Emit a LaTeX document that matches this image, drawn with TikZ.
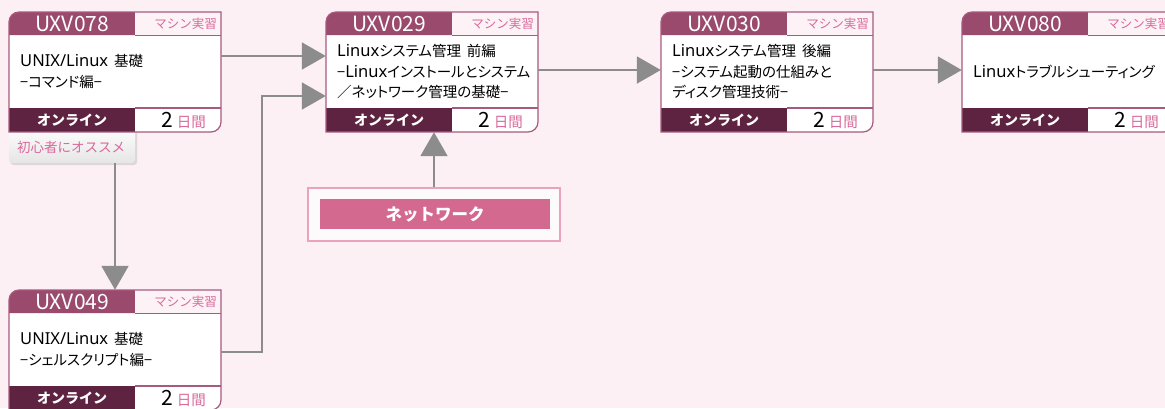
\documentclass[tikz,border=0pt]{standalone}
\usepackage{fontspec}
\setmainfont{Noto Sans CJK JP}
\newfontfamily\pfont[RawFeature=+palt]{Noto Sans CJK JP}
\newfontfamily\latfont{Noto Sans}
\newcommand\lat[1]{{\latfont\fontsize{16.5}{20.5}\selectfont #1}}
\newcommand\wsp{\hspace{6pt}}
\usetikzlibrary{arrows.meta}
\definecolor{bgc}{HTML}{FCF0F5}
\definecolor{hdark}{HTML}{9A4A6D}
\definecolor{fdark}{HTML}{5E2340}
\definecolor{pinktxt}{HTML}{D9699B}
\definecolor{bordc}{HTML}{A65A7E}
\definecolor{hlight}{HTML}{FDF3F7}
\definecolor{arrowgray}{HTML}{8C8C8C}
\definecolor{netbar}{HTML}{D4698F}
\definecolor{netbord}{HTML}{EAA3BF}
\definecolor{netfill}{HTML}{FDFAFB}
\tikzset{
  conn/.style={draw=arrowgray, line width=2pt, -{Triangle[length=24pt,width=27pt,fill=arrowgray]}},
  cardbox/.style={minimum width=212pt, minimum height=120pt, inner sep=0pt},
  codetxt/.style={text=white, font=\fontsize{21}{21}\selectfont, inner sep=0pt},
  typetxt/.style={text=pinktxt, font=\fontsize{12.5}{12.5}\selectfont, inner sep=0pt, anchor=east},
  bodytxt/.style={anchor=west, align=left, inner sep=0pt, font=\pfont\fontsize{14.5}{20.5}\selectfont},
  modetxt/.style={text=white, font=\fontsize{14}{14}\selectfont\bfseries, inner sep=0pt},
  daystxt/.style={anchor=east, inner sep=0pt},
}
\newcommand\coursecard[5]{%
  \begin{scope}[shift={(#2,#3)}]
    \path[fill=white] (0,120) -- (0,10) arc[start angle=180,end angle=270,radius=10] -- (212,0) -- (212,110) arc[start angle=0,end angle=90,radius=10] -- cycle;
    \path[fill=hdark] (0,23) -- (0,10) arc[start angle=180,end angle=270,radius=10] -- (126,0) -- (126,23) -- cycle;
    \path[fill=hlight] (126,0) rectangle (212,23);
    \path[fill=fdark] (0,96) rectangle (126,120);
    \draw[bordc, line width=0.8pt] (126,23) -- (212,23);
    \draw[bordc, line width=1.2pt] (126,96) -- (212,96);
    \draw[bordc, line width=1.2pt] (0,120) -- (0,10) arc[start angle=180,end angle=270,radius=10] -- (212,0) -- (212,110) arc[start angle=0,end angle=90,radius=10] -- cycle;
    \node[cardbox] (#1) at (106,60) {};
    \node[codetxt] (#1-code) at (63,11.5) {#4};
    \node[typetxt] (#1-type) at (208,11.5) {マシン実習};
    \node[bodytxt] (#1-body) at (11,59.5) {#5};
    \node[modetxt] (#1-mode) at (63,108) {オンライン};
    \node[daystxt] (#1-days) at (197,108) {\fontsize{21}{21}\selectfont 2\,\textcolor{pinktxt}{\fontsize{14.5}{14.5}\selectfont 日間}};
  \end{scope}}
\begin{document}
\begin{tikzpicture}[x=1pt,y=-1pt]
\useasboundingbox (0,0) rectangle (1165,408);
\clip (0,0) rectangle (1165,408);
\fill[bgc] (0,0) rectangle (1165,408);
% tag under first card
\fill[black!25, opacity=0.5, rounded corners=3pt] (10.5,125) rectangle (137,165);
\shade[top color=white, bottom color=black!10, rounded corners=3pt] (9,125) rectangle (135,163);
\node[inner sep=0pt, minimum width=126pt, minimum height=31pt] (tag1) at (72,147.5) {};
\node[anchor=west, inner sep=0pt, text=pinktxt, font=\fontsize{13.5}{13.5}\selectfont] (tag1-txt) at (17,147.5) {初心者にオススメ};
\coursecard{c1}{9}{12}{UXV078}{\lat{UNIX/Linux}\wsp 基礎\\−コマンド編−}
\coursecard{c2}{326}{12}{UXV029}{\lat{Linux}システム管理\wsp 前編\\−\lat{Linux}インストールとシステム\\／ネットワーク管理の基礎−}
\coursecard{c3}{661}{12}{UXV030}{\lat{Linux}システム管理\wsp 後編\\−システム起動の仕組みと\\ディスク管理技術−}
\coursecard{c4}{962}{12}{UXV080}{\lat{Linux}トラブルシューティング}
\coursecard{c5}{9}{290}{UXV049}{\lat{UNIX/Linux}\wsp 基礎\\−シェルスクリプト編−}
% network box
\node[draw=netbord, fill=netfill, line width=1.5pt, minimum width=252pt, minimum height=53pt, inner sep=0pt] (net) at (434,214.5) {};
\node[fill=netbar, minimum width=230pt, minimum height=30pt, inner sep=0pt, text=white, font=\fontsize{16.5}{16.5}\selectfont\bfseries] (netlabel) at (435,214) {ネットワーク};
% connectors
\draw[conn] ([yshift=16pt]c1.east) -- ([yshift=16pt]c2.west);
\draw[conn] ([yshift=-2pt]c5.east) -| ([xshift=-64pt,yshift=-24pt]c2.west) -- ([yshift=-24pt]c2.west);
\draw[conn] ([yshift=2pt]c2.east) -- ([yshift=2pt]c3.west);
\draw[conn] ([yshift=2pt]c3.east) -- ([yshift=2pt]c4.west);
\draw[conn] (tag1.south -| c5.north) -- (c5.north);
\draw[conn] (net.north) -- (net.north |- c2.south);
\end{tikzpicture}
\end{document}
